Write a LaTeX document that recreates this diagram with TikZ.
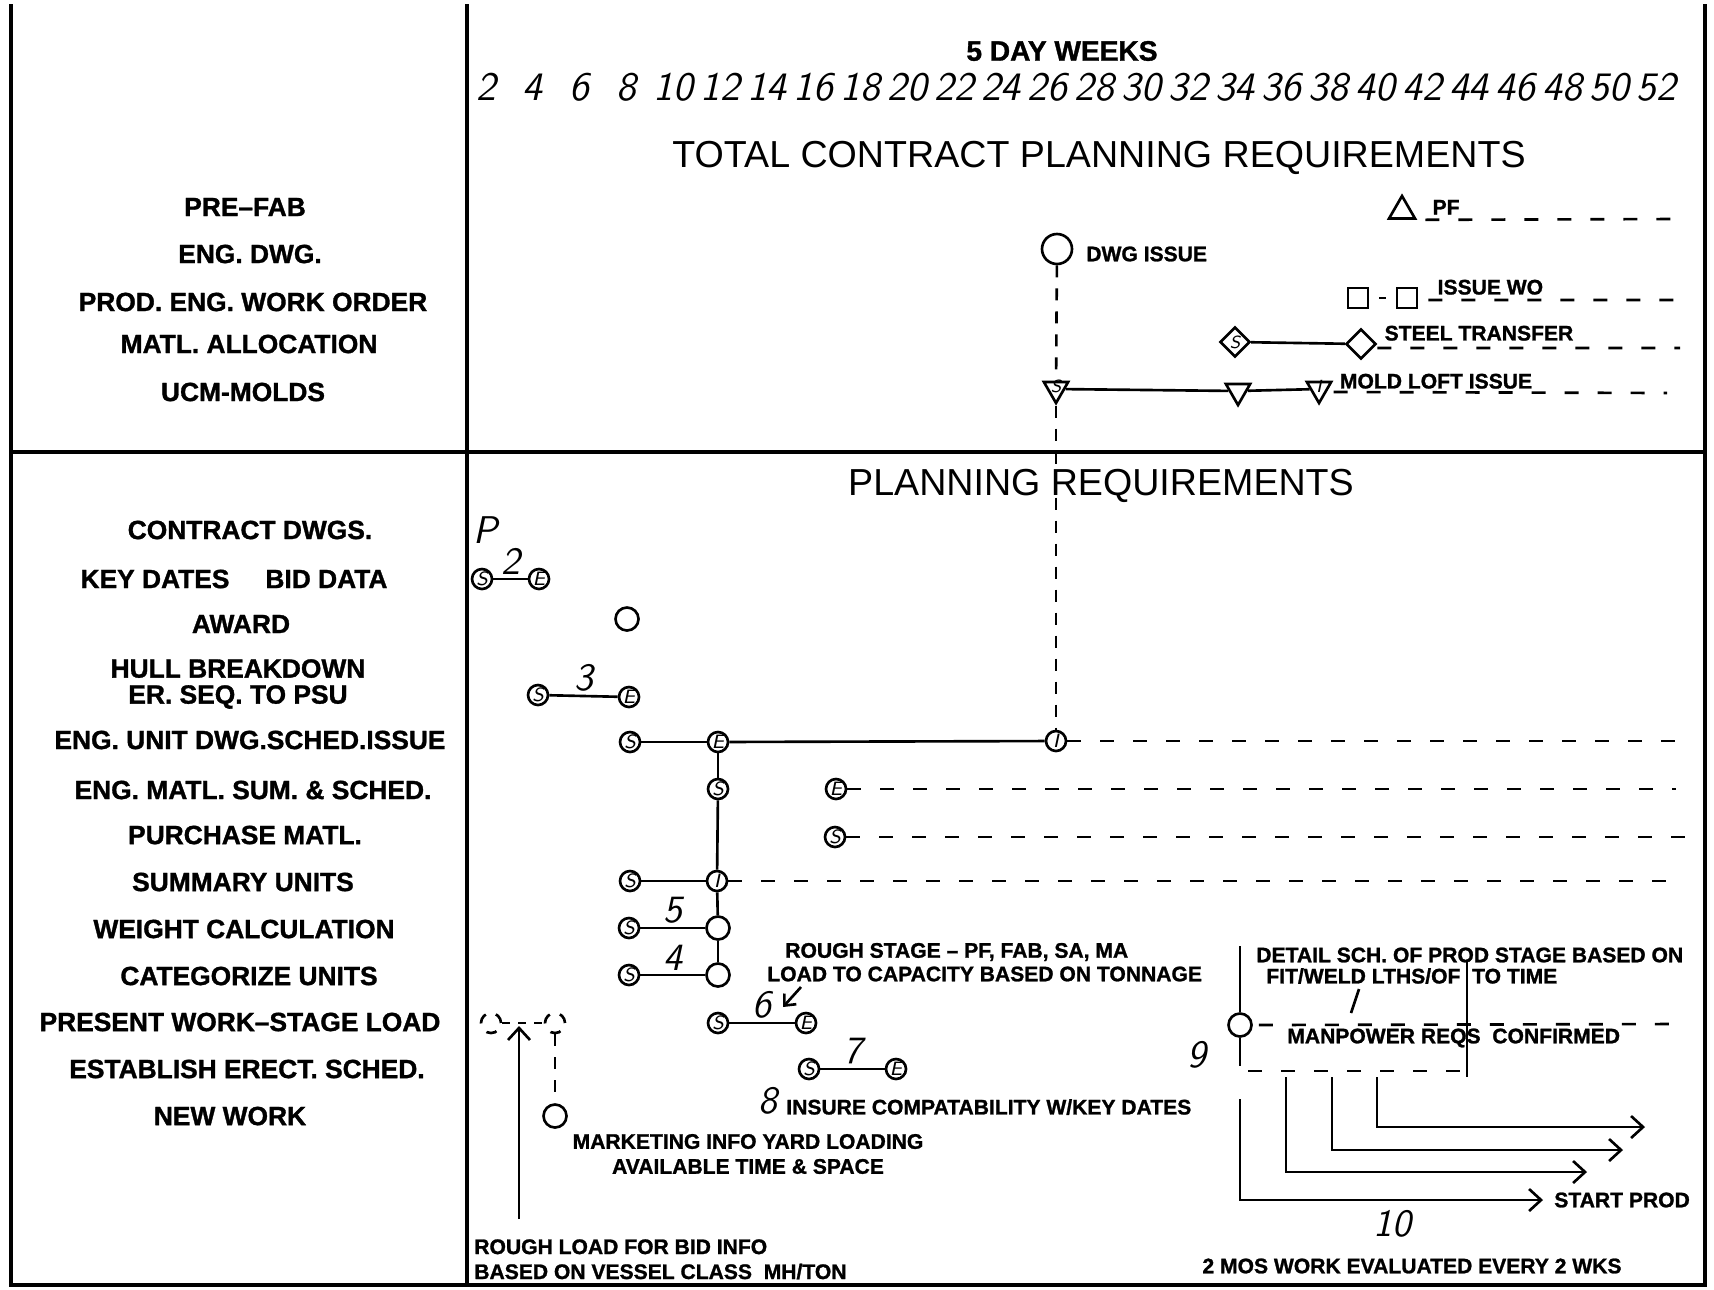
\documentclass[tikz,border=0pt]{standalone}
\usepackage{fontspec}
\newfontfamily\lblfont{Liberation Sans}[BoldFeatures={FakeBold=1.2}]
\usetikzlibrary{positioning,arrows.meta,shapes.geometric,calc}

\begin{document}
\begin{tikzpicture}[
  x=0.1mm, y=-0.1mm,
  line width=0.75pt,
  frame/.style={line width=1.4pt},
  rowlbl/.style={font=\lblfont\bfseries\fontsize{7.5}{7.4}\selectfont, inner sep=0pt, align=center},
  note/.style={font=\lblfont\bfseries\fontsize{6}{7.1}\selectfont, inner sep=0pt},
  titl/.style={font=\lblfont\bfseries\fontsize{8}{9}\selectfont, inner sep=0pt},
  head/.style={font=\lblfont\fontsize{10.7}{12}\selectfont, inner sep=0pt},
  hand/.style={font=\sffamily\itshape\fontsize{11}{12}\selectfont, inner sep=1pt},
  ltr/.style={font=\sffamily\itshape\fontsize{5}{5}\selectfont, inner sep=0pt},
  ev/.style={circle, draw, minimum size=2mm, inner sep=0pt, font=\sffamily\itshape\fontsize{5.5}{6}\selectfont},
  ring/.style={circle, draw, minimum size=2.3mm, inner sep=0pt},
  vtri/.style={regular polygon, regular polygon sides=3, shape border rotate=180, draw, minimum size=2.8mm, inner sep=0pt},
  uptri/.style={regular polygon, regular polygon sides=3, draw, minimum size=3mm, inner sep=0pt},
  dia/.style={diamond, draw, minimum size=3mm, inner sep=0pt},
  sq/.style={rectangle, draw, minimum size=2mm, inner sep=0pt},
  dashln/.style={dash pattern=on 1.4mm off 1.9mm},
  vdash/.style={dash pattern=on 1.2mm off 1.1mm},
  arr/.style={-{Straight Barb[length=1.2mm,width=2.2mm]}}
]
\useasboundingbox (0,0) rectangle (1714,1289);
\draw[frame] (11,4) -- (11,1285) -- (1705,1285) -- (1705,4);
\draw[frame] (467,4) -- (467,1285);
\draw[frame] (11,452) -- (1705,452);

\node[titl] (weeks) at (1062,51) {5 DAY WEEKS};
\foreach \w [count=\i from 0] in {2,4,...,52}
  \node[hand, font=\sffamily\itshape\fontsize{11.5}{12}\selectfont] (wk\w) at (486+46.8*\i,87) {\w};
\node[head] (total) at (1099,158) {TOTAL CONTRACT PLANNING REQUIREMENTS};
\node[head] (plan) at (1101,486) {PLANNING REQUIREMENTS};

\node[rowlbl] (prefab) at (245,207) {PRE–FAB};
\node[rowlbl] (engdwg) at (250,254) {ENG. DWG.};
\node[rowlbl] (prodeng) at (253,302) {PROD. ENG. WORK ORDER};
\node[rowlbl] (matl) at (249,344) {MATL. ALLOCATION};
\node[rowlbl] (ucm) at (243,392) {UCM-MOLDS};

\node[rowlbl] (contract) at (250,530) {CONTRACT DWGS.};
\node[rowlbl] (keydates) at (234,579) {KEY DATES\hspace{3.6mm}BID DATA};
\node[rowlbl] (award) at (241,624) {AWARD};
\node[rowlbl] (hull) at (238,684) {HULL BREAKDOWN\\ER. SEQ. TO PSU};
\node[rowlbl] (engunit) at (250,740) {ENG. UNIT DWG.SCHED.ISSUE};
\node[rowlbl] (engmatl) at (253,790) {ENG. MATL. SUM. \& SCHED.};
\node[rowlbl] (purch) at (245,835) {PURCHASE MATL.};
\node[rowlbl] (summ) at (243,882) {SUMMARY UNITS};
\node[rowlbl] (weight) at (244,929) {WEIGHT CALCULATION};
\node[rowlbl] (categ) at (249,976) {CATEGORIZE UNITS};
\node[rowlbl] (present) at (240,1022) {PRESENT WORK–STAGE LOAD};
\node[rowlbl] (erect) at (247,1069) {ESTABLISH ERECT. SCHED.};
\node[rowlbl] (newwork) at (230,1116) {NEW WORK};

\node[uptri] (pf) at (1402,211) {};
\coordinate (pfend) at (1680,219);
\draw[dashln] ([xshift=0.8mm]pf.corner 3) -- (pfend);
\node[note, anchor=south west] (pflbl) at ([xshift=1.4mm,yshift=0.4mm]pf.corner 3) {PF};

\node[ring, minimum size=3mm] (dwg) at (1057,249) {};
\node[note, anchor=west] (dwglbl) at (1085,254) {DWG ISSUE};

\node[sq] (wo1) at (1358,298) {};
\node[sq] (wo2) at (1407,298) {};
\draw[shorten <=1mm, shorten >=1mm] (wo1) -- (wo2);
\coordinate (woend) at (1676,300);
\draw[dashln] ([xshift=1mm,yshift=-0.2mm]wo2.east) -- (woend);
\node[note, anchor=south west] (wolbl) at ([xshift=1.8mm,yshift=0.2mm]wo2.east) {ISSUE WO};

\node[dia, label={[ltr]center:S}] (st1) at (1235,342) {};
\node[dia] (st2) at (1361,344) {};
\draw (st1) -- (st2);
\coordinate (stend) at (1680,348);
\draw[dashln] ([yshift=-0.4mm]st2.east) -- (stend);
\node[note, anchor=south west] (stlbl) at ([xshift=0.6mm,yshift=0.2mm]st2.east) {STEEL TRANSFER};

\node[vtri, label={[ltr, yshift=0.3mm]center:S}] (m1) at (1056,389) {};
\node[vtri] (m2) at (1238,391) {};
\node[vtri, label={[ltr, yshift=0.3mm]center:I}] (m3) at (1319,389) {};
\draw (m1) -- (m2);
\draw (m2) -- (m3);
\coordinate (mlend) at (1667,393);
\draw[dashln] ([xshift=0.5mm,yshift=-0.3mm]m3.east) -- (mlend);
\node[note, anchor=south west] (mllbl) at ([xshift=1mm,yshift=-0.1mm]m3.east) {MOLD LOFT ISSUE};

\node[ev] (i1) at (1056,741) {I};
\draw[vdash] (dwg) -- (m1);
\draw[vdash] (m1) -- (i1);

\node[hand] (p) at (486,530) {P};
\node[ev] (s2) at (482,579) {S};
\node[ev] (e2) at (539,579) {E};
\draw (s2) -- node[hand, above] (n2) {2} (e2);
\node[ring] (awd) at (627,619) {};
\node[ev] (s3) at (538,695) {S};
\node[ev] (e3) at (629,697) {E};
\draw (s3) -- node[hand, above] (n3) {3} (e3);

\node[ev] (s4) at (630,742) {S};
\node[ev] (e4) at (718,742) {E};
\draw (s4) -- (e4);
\draw (e4) -- (i1);
\coordinate (i1end) at (1676,741);
\draw[dashln] (i1) -- (i1end);

\node[ev] (s5) at (718,789) {S};
\node[ev] (e6) at (836,789) {E};
\coordinate (e6end) at (1676,789);
\draw[dashln] (e6) -- (e6end);
\node[ev] (s7) at (835,837) {S};
\coordinate (s7end) at (1689,837);
\draw[dashln] (s7) -- (s7end);

\node[ev] (s8) at (630,881) {S};
\node[ev] (i2) at (717,881) {I};
\draw (s8) -- (i2);
\coordinate (i2end) at (1676,881);
\draw[dashln] (i2) -- (i2end);

\node[ev] (s9) at (629,928) {S};
\node[ring] (c9) at (718,928) {};
\draw (s9) -- node[hand, above] (n5) {5} (c9);
\node[ev] (s10) at (629,975) {S};
\node[ring] (c10) at (718,975) {};
\draw (s10) -- node[hand, above] (n4) {4} (c10);

\draw (e4) -- (s5);
\draw (s5) -- (i2);
\draw (i2) -- (c9);
\draw (c9) -- (c10);

\node[note, anchor=west] (rough1) at (784,952) {ROUGH STAGE – PF, FAB, SA, MA};
\node[note, anchor=west] (rough2) at (766,974) {LOAD TO CAPACITY BASED ON TONNAGE};

\node[ring, dashed, minimum size=2mm] (d1) at (491,1023) {};
\node[ring, dashed, minimum size=2mm] (d2) at (555,1023) {};
\draw[dash pattern=on 0.8mm off 0.8mm] (d1) -- (d2);
\coordinate (upfoot) at (519,1219);
\coordinate (uptip) at (519,1026);
\draw[arr] (upfoot) -- (uptip);
\node[ring] (mkt) at (555,1116) {};
\draw[vdash] (d2) -- (mkt);
\node[note, align=center] (mktlbl) at (748,1154) {MARKETING INFO YARD LOADING\\AVAILABLE TIME \& SPACE};
\node[note, align=left, anchor=north west] (roughload) at (473,1238) {ROUGH LOAD FOR BID INFO\\BASED ON VESSEL CLASS\ \ MH/TON};

\node[ev] (s11) at (718,1023) {S};
\node[ev] (e11) at (806,1023) {E};
\draw (s11) -- node[hand, above] (n6) {6} (e11);
\coordinate (a6tail) at (801,987);
\coordinate (a6tip) at (783,1007);
\draw[-{Straight Barb[length=0.9mm,width=1.6mm]}] (a6tail) -- (a6tip);

\node[ev] (s12) at (809,1069) {S};
\node[ev] (e12) at (896,1069) {E};
\draw (s12) -- node[hand, above] (n7) {7} (e12);
\node[hand] (n8) at (768,1101) {8};
\node[note, anchor=west] (insure) at (785,1107) {INSURE COMPATABILITY W/KEY DATES};
\node[hand] (n9) at (1197,1055) {9};

\node[ring] (c13) at (1240,1025) {};
\coordinate (c13top) at (1240,946);
\coordinate (c13bot) at (1240,1066);
\draw (c13top) -- (c13);
\draw (c13) -- (c13bot);
\coordinate (c13end) at (1680,1024);
\draw[dashln] ([xshift=0.6mm]c13.east) -- (c13end);
\node[note, anchor=west] (detail1) at (1255,955) {DETAIL SCH. OF PROD STAGE BASED ON};
\node[note, anchor=west] (detail2) at (1265,976) {FIT/WELD LTHS/OF\ \ TO TIME};
\node[note, anchor=west] (manpw) at (1286,1038) {MANPOWER REQS\ \ CONFIRMED};
\coordinate (vtop) at (1467,960);
\coordinate (vbot) at (1467,1077);
\draw (vtop) -- (vbot);
\coordinate (dl) at (1248,1071);
\coordinate (dr) at (1462,1071);
\draw[dashln] (dl) -- (dr);
\coordinate (sl1) at (1359,989);
\coordinate (sl2) at (1351,1013);
\draw (sl1) -- (sl2);

\node[note, inner sep=1mm, anchor=west] (start) at (1543,1200) {START PROD};
\coordinate (f0) at (1240,1099);
\draw[arr] (f0) |- (start.west);
\coordinate (f1) at (1286,1077);
\coordinate (t1) at (1587,1172);
\draw[arr] (f1) |- (t1);
\coordinate (f2) at (1332,1077);
\coordinate (t2) at (1623,1150);
\draw[arr] (f2) |- (t2);
\coordinate (f3) at (1377,1077);
\coordinate (t3) at (1645,1127);
\draw[arr] (f3) |- (t3);
\node[hand] (n10) at (1392,1224) {10};
\node[note] (evalu) at (1412,1266) {2 MOS WORK EVALUATED EVERY 2 WKS};
\end{tikzpicture}
\end{document}
